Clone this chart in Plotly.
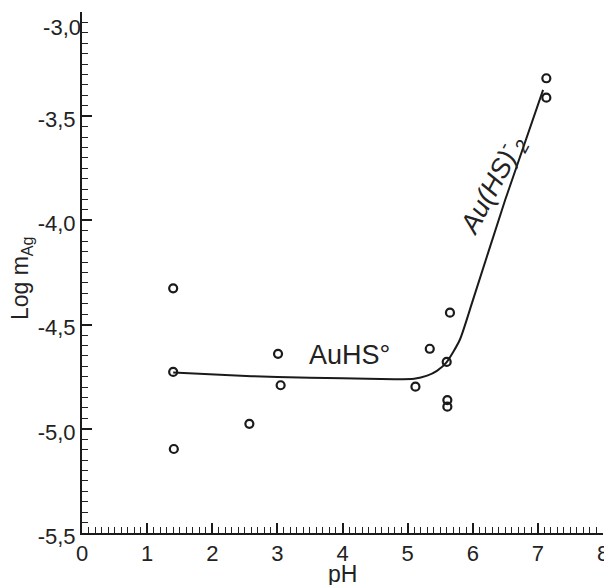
import plotly.graph_objects as go

# Experimental data points
ph_points = [1.40, 1.40, 1.41, 2.57, 3.01, 3.05, 5.12, 5.34, 5.65, 5.60, 5.61, 5.61, 7.13, 7.13]
logm_points = [-4.326, -4.727, -5.097, -4.976, -4.640, -4.791, -4.798, -4.616,
               -4.443, -4.679, -4.862, -4.894, -3.318, -3.411]

# Model curve
ph_curve = [1.40, 2.2, 3.0, 4.0, 4.8, 5.1, 5.3, 5.45, 5.6, 5.8, 6.0, 6.5, 7.08]
logm_curve = [-4.730, -4.742, -4.752, -4.758, -4.762, -4.760, -4.745, -4.722, -4.680,
              -4.574, -4.385, -3.900, -3.374]

# Tick labels
x_tickvals = [0, 1, 2, 3, 4, 5, 6, 7, 8]
x_ticktext = ["0", "1", "2", "3", "4", "5", "6", "7", "8"]
y_tickvals = [-5.5, -5.0, -4.5, -4.0, -3.5, -3.0]
y_ticktext = ["-5,5", "-5,0", "-4,5", "-4,0", "-3,5", "-3,0"]

font_family = "Arial, Liberation Sans, sans-serif"
ink = "#1a1a1a"
y_range = [y_tickvals[0], y_tickvals[-1]]

fig = go.Figure()
fig.add_trace(go.Scatter(x=ph_curve, y=logm_curve, mode="lines",
                         line=dict(color=ink, width=2, shape="spline", smoothing=0.6),
                         showlegend=False, hoverinfo="skip"))
fig.add_trace(go.Scatter(x=ph_points, y=logm_points, mode="markers",
                         marker=dict(symbol="circle-open", size=8, color=ink,
                                     line=dict(width=2.2, color=ink)),
                         cliponaxis=False, showlegend=False))
# invisible helper trace so the overlay axis (top tick label) is drawn
fig.add_trace(go.Scatter(x=[ph_points[0]], y=[logm_points[0]], yaxis="y2", mode="markers",
                         marker=dict(opacity=0), showlegend=False, hoverinfo="skip"))

fig.add_annotation(x=4.11, y=-4.646, xref="x", yref="y", text="AuHS°",
                   showarrow=False, font=dict(family=font_family, size=27, color="#222222"))
fig.add_annotation(x=6.29, y=-3.83, xref="x", yref="y",
                   text="<i>Au(HS)<sup>-</sup><sub>2</sub></i>", textangle=-62,
                   showarrow=False, font=dict(family=font_family, size=27, color="#222222"))

# Axis titles
fig.add_annotation(x=0.5, y=-0.05, xref="paper", yref="paper", xanchor="center", yanchor="top",
                   text="pH", showarrow=False,
                   font=dict(family=font_family, size=23, color="#222222"))
fig.add_annotation(x=-0.148, y=0.49, xref="paper", yref="paper", xanchor="left", yanchor="middle",
                   text="Log m<sub>Ag</sub>", textangle=-90, showarrow=False,
                   font=dict(family=font_family, size=23, color="#222222"))

tickfont = dict(family=font_family, size=22, color="#222222")
axis_common = dict(showline=True, linecolor=ink, linewidth=2, ticks="inside",
                   tickcolor=ink, tickwidth=2, ticklen=10, showgrid=False,
                   zeroline=False, automargin=False, ticklabeloverflow="allow",
                   tickfont=tickfont)

fig.update_xaxes(range=[0, 8], tickmode="array", tickvals=x_tickvals, ticktext=x_ticktext,
                 minor=dict(dtick=0.1, ticks="inside", ticklen=6, tickwidth=1, tickcolor="#222222"),
                 **axis_common)
fig.update_yaxes(range=y_range, tickmode="array", tickvals=y_tickvals,
                 ticktext=y_ticktext[:-1] + [""], ticklabelshift=3,
                 minor=dict(dtick=0.05, tick0=-3.0, ticks="inside", ticklen=6, tickwidth=1, tickcolor="#222222"),
                 **axis_common)

# page body has an 8px margin, so the figure is sized/margined to compensate
fig.update_layout(width=604, height=577, margin=dict(l=74, r=9, t=4, b=52),
                  plot_bgcolor="white", paper_bgcolor="white",
                  font=dict(family=font_family),
                  yaxis2=dict(overlaying="y", side="left", range=y_range, tickmode="array",
                              tickvals=[y_tickvals[-1]], ticktext=[y_ticktext[-1]],
                              ticklabelshift=15, ticklabeloverflow="allow", showline=False,
                              ticks="", showgrid=False, zeroline=False, automargin=False,
                              tickfont=tickfont))

fig.write_html("out.html")
